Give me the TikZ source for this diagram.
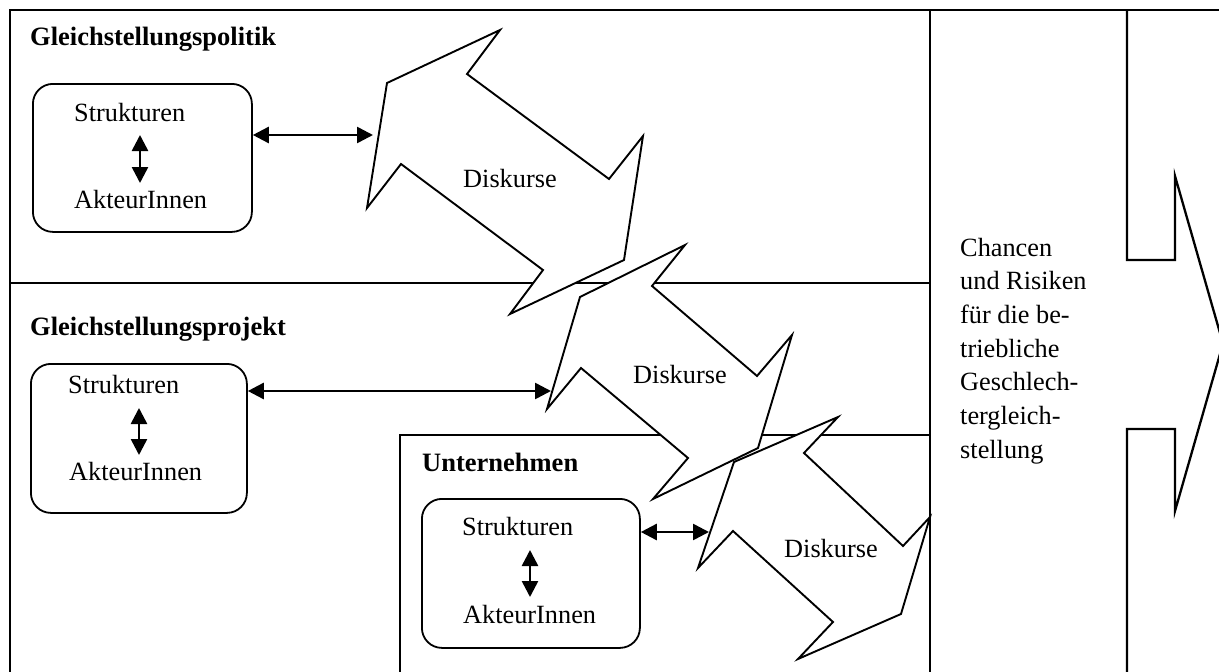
\documentclass[tikz,border=0pt]{standalone}
\usepackage{fontspec}
\setmainfont{Liberation Serif}
\usetikzlibrary{arrows.meta}
\begin{document}
\begin{tikzpicture}[x=1pt,y=-1pt,
  frame/.style={line width=2.3pt},
  disk/.style={draw, fill=white, line width=1.9pt, line join=miter},
  sbox/.style={draw, rounded corners=20pt, line width=1.8pt, inner sep=0pt, anchor=north west},
  dbl/.style={line width=2.6pt, {Triangle[length=16pt,width=16pt]}-{Triangle[length=16pt,width=16pt]}},
  txt/.style={inner sep=0pt, anchor=base west, font=\fontsize{26.3}{33.7}\selectfont},
  ttl/.style={inner sep=0pt, anchor=base west, font=\fontsize{26.5}{33.7}\selectfont\bfseries}]
\useasboundingbox (0,0) rectangle (1219,672);
\clip (0,0) rectangle (1219,672);
\fill[white] (0,0) rectangle (1219,672);

% frame lines (below the Diskurse shapes)
\draw[frame] (10,680) -- (10,10) -- (1230,10);
\draw[frame] (10,283) -- (930,283);
\draw[frame] (400,680) -- (400,435) -- (930,435);

% Diskurse shapes
\draw[disk] (387,83) -- (500,30) -- (467,74) -- (609,179) -- (643,136) -- (624,260)
  -- (510,314) -- (543,270) -- (401,164) -- (367,208) -- cycle;
\draw[disk] (580,297) -- (685,245) -- (652,286) -- (757,376) -- (792,335) -- (758,448)
  -- (653,499) -- (688,458) -- (581,368) -- (547,409) -- cycle;
\draw[disk] (734,462) -- (838,417) -- (804,453) -- (903,546) -- (930,517) -- (901,614)
  -- (798,659) -- (833,622) -- (733,531) -- (698,568) -- cycle;

% vertical dividers and right arrow
\draw[frame] (930,10) -- (930,680);
\draw[frame] (1127,10) -- (1127,260) -- (1175,260) -- (1175,176) -- (1223,343.5)
  -- (1175,511) -- (1175,429) -- (1127,429) -- (1127,680);

% titles
\node[ttl] (t1) at (30,45) {Gleichstellungspolitik};
\node[ttl] (t2) at (30,335) {Gleichstellungsprojekt};
\node[ttl] (t3) at (422,471) {Unternehmen};

% boxes
\node[sbox, minimum width=219pt, minimum height=148pt] (b1) at (32,83) {};
\node[sbox, minimum width=216pt, minimum height=149pt] (b2) at (30,363) {};
\node[sbox, minimum width=218pt, minimum height=149pt] (b3) at (421,498) {};

\node[txt] (s1) at (74,121.5) {Strukturen};
\node[txt] (a1) at (74,208) {AkteurInnen};
\node[txt] (s2) at (68,393) {Strukturen};
\node[txt] (a2) at (69,480) {AkteurInnen};
\node[txt] (s3) at (462,535) {Strukturen};
\node[txt] (a3) at (463,623) {AkteurInnen};

% vertical arrows inside boxes
\coordinate (v1a) at (140,135); \coordinate (v1b) at (140,183);
\coordinate (v2a) at (139,408); \coordinate (v2b) at (139,455);
\coordinate (v3a) at (530,550); \coordinate (v3b) at (530,597);
\draw[dbl] (v1a) -- (v1b);
\draw[dbl] (v2a) -- (v2b);
\draw[dbl] (v3a) -- (v3b);

% horizontal arrows to Diskurse
\coordinate (d1) at (373,135);
\coordinate (d2) at (551,391);
\coordinate (d3) at (709,532);
\draw[dbl] (b1.east |- d1) -- (d1);
\draw[dbl] (b2.east |- d2) -- (d2);
\draw[dbl] (b3.east |- d3) -- (d3);

% Diskurse labels
\node[txt] (k1) at (463,187) {Diskurse};
\node[txt] (k2) at (633,383) {Diskurse};
\node[txt] (k3) at (784,557) {Diskurse};

% right column text
\foreach \t [count=\i] in {Chancen, und Risiken, für die be-, triebliche, Geschlech-, tergleich-, stellung}
  \node[txt] (c\i) at (960,{256+33.7*(\i-1)}) {\t};
\end{tikzpicture}
\end{document}
